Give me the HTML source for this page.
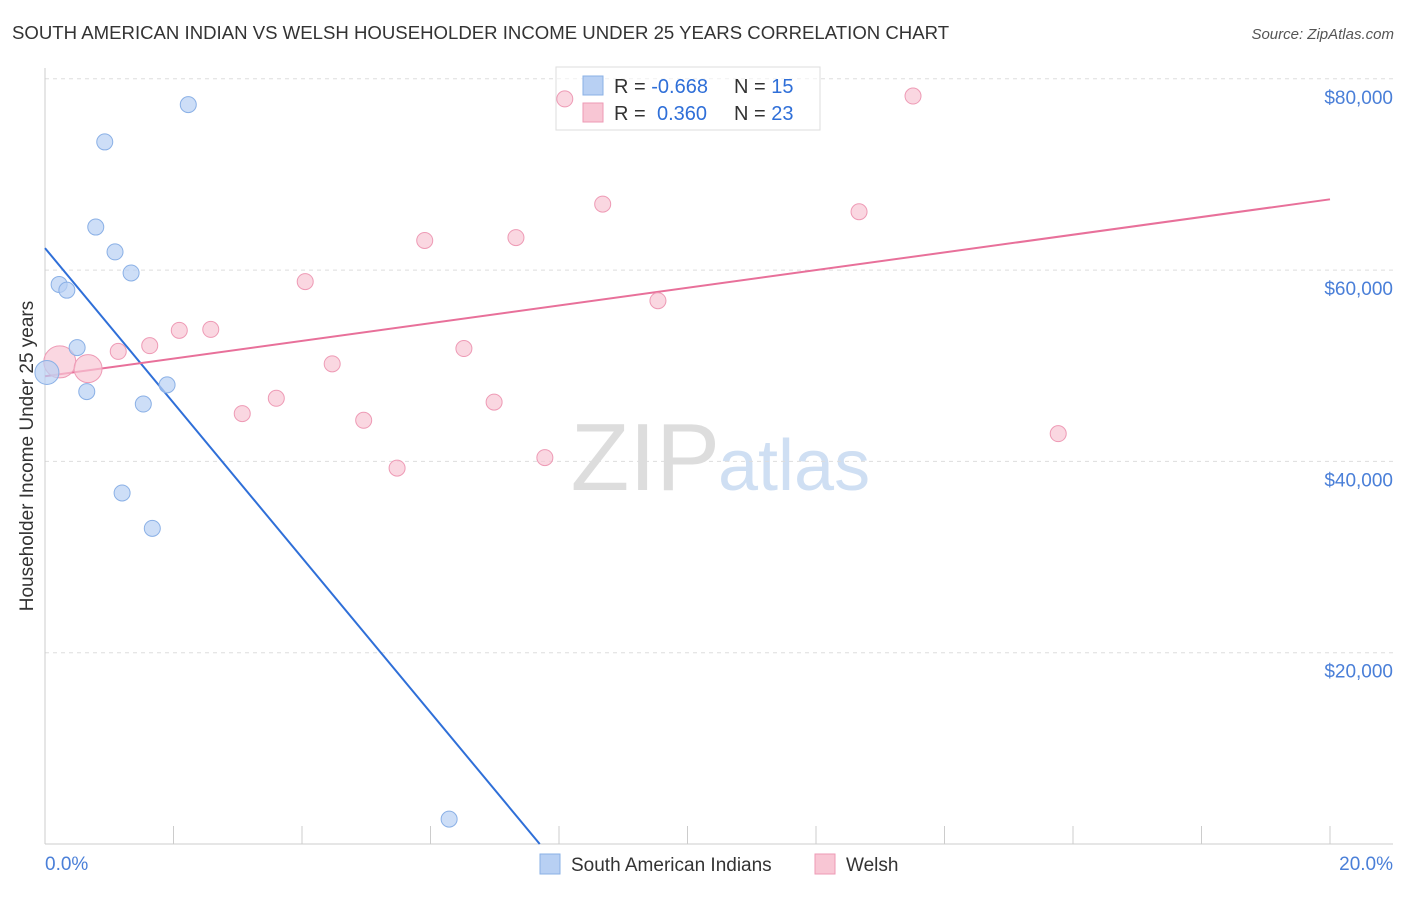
<!DOCTYPE html>
<html><head><meta charset="utf-8"><style>
body{margin:0;background:#fff;font-family:"Liberation Sans",sans-serif}
svg text{font-family:"Liberation Sans",sans-serif}
</style></head><body>
<svg id="c" width="1406" height="892" xmlns="http://www.w3.org/2000/svg">
<text x="12" y="39" font-size="18.6" fill="#333">SOUTH AMERICAN INDIAN VS WELSH HOUSEHOLDER INCOME UNDER 25 YEARS CORRELATION CHART</text>
<text x="1394" y="39" font-size="15" fill="#555" font-style="italic" text-anchor="end">Source: ZipAtlas.com</text>
<text x="720" y="490" font-size="96" fill="#ddd" text-anchor="end" font-family="Liberation Serif">ZIP</text>
<text x="718" y="490" font-size="72" fill="#cfdff3">atlas</text>
<text transform="translate(33,456) rotate(-90)" font-size="19" fill="#333" text-anchor="middle">Householder Income Under 25 years</text>
<g id="grid"></g>
<g>
<rect x="556" y="67" width="264" height="63" fill="#fff" fill-opacity="0.6" stroke="#ddd"/>
<rect x="583" y="76" width="20" height="19" fill="#b8d0f3" stroke="#8ab0e6"/>
<rect x="583" y="103" width="20" height="19" fill="#f8c6d4" stroke="#ee9ab5"/>
<text x="614" y="93" font-size="20" fill="#333">R = <tspan fill="#2f6fd8">-0.668</tspan></text>
<text x="734" y="93" font-size="20" fill="#333">N = <tspan fill="#2f6fd8">15</tspan></text>
<text x="614" y="120" font-size="20" fill="#333">R = <tspan fill="#2f6fd8" x="657">0.360</tspan></text>
<text x="734" y="120" font-size="20" fill="#333">N = <tspan fill="#2f6fd8">23</tspan></text>
</g>
<g id="lines"></g><g id="pts"></g>
<g>
<rect x="540" y="854" width="20" height="20" fill="#b8d0f3" stroke="#8ab0e6"/>
<text x="571" y="871" font-size="19" fill="#333">South American Indians</text>
<rect x="815" y="854" width="20" height="20" fill="#f8c6d4" stroke="#ee9ab5"/>
<text x="846" y="871" font-size="19" fill="#333">Welsh</text>
</g>
<text x="45" y="870" font-size="19" fill="#4a7fd8">0.0%</text>
<text x="1393" y="870" font-size="19" fill="#4a7fd8" text-anchor="end">20.0%</text>
</svg>
<script>
const NS="http://www.w3.org/2000/svg";
const yTicks=[20000,40000,60000,80000];
const yTickLabels=["$20,000","$40,000","$60,000","$80,000"];
const blueX=[0.03,0.22,0.34,0.50,0.65,0.79,0.93,1.09,1.20,1.34,1.53,1.67,1.90,2.23,6.29];
const blueY=[49300,58500,57900,51900,47300,64500,73400,61900,36700,59700,46000,33000,48000,77300,2600];
const blueR=[12,8,8,8,8,8,8,8,8,8,8,8,8,8,8];
const pinkX=[0.23,0.67,1.14,1.63,2.09,2.58,3.07,3.60,4.05,4.47,4.96,5.48,5.91,6.52,6.99,7.33,7.78,8.09,8.68,9.54,12.67,13.51,15.77];
const pinkY=[50400,49700,51500,52100,53700,53800,45000,46600,58800,50200,44300,39300,63100,51800,46200,63400,40400,77900,66900,56800,66100,78200,42900];
const pinkR=[16,14,8,8,8,8,8,8,8,8,8,8,8,8,8,8,8,8,8,8,8,8,8];
const blueLine=[[0,62300],[7.70,0]];
const pinkLine=[[0,48900],[20,67400]];
const X=p=>45+p*64.25, Y=v=>844-v*191.3/20000;
function mk(t,a,p){const e=document.createElementNS(NS,t);for(const k in a)e.setAttribute(k,a[k]);p.appendChild(e);return e;}
const g=document.getElementById('grid');
yTicks.forEach((v,i)=>{
 const l=mk('line',{x1:45,x2:1393,y1:Y(v),y2:Y(v),stroke:'#ddd','stroke-dasharray':'4,4'},g);
 
 
 const t=mk('text',{x:1393,y:Y(v)+25,'font-size':19,fill:'#4a7fd8','text-anchor':'end'},g);
 t.textContent=yTickLabels[i];
 
 
});
mk('line',{x1:45,x2:45,y1:68,y2:844,stroke:'#ccc'},g);
mk('line',{x1:45,x2:1393,y1:844,y2:844,stroke:'#ccc'},g);
for(let i=1;i<=10;i++){const t=mk('line',{x1:X(i*2),x2:X(i*2),y1:826,y2:844,stroke:'#ccc'},g);
 
 }
const P=document.getElementById('pts');
function pts(xs,ys,rs,fill,stroke,name){xs.forEach((x,i)=>{const c=mk('circle',{cx:X(x),cy:Y(ys[i]),r:rs[i],fill:fill,stroke:stroke,'fill-opacity':0.7},P);
 
 });}
pts(pinkX,pinkY,pinkR,'#f8c6d4','#ee9ab5','welsh-point');
pts(blueX,blueY,blueR,'#b8d0f3','#8ab0e6','south-american-indian-point');
const L=document.getElementById('lines');
const bl=mk('line',{x1:X(blueLine[0][0]),y1:Y(blueLine[0][1]),x2:X(blueLine[1][0]),y2:Y(blueLine[1][1]),stroke:'#2f6fd8','stroke-width':2},L);


const pl=mk('line',{x1:X(pinkLine[0][0]),y1:Y(pinkLine[0][1]),x2:X(pinkLine[1][0]),y2:Y(pinkLine[1][1]),stroke:'#e8709a','stroke-width':2},L);


</script>
</body></html>
